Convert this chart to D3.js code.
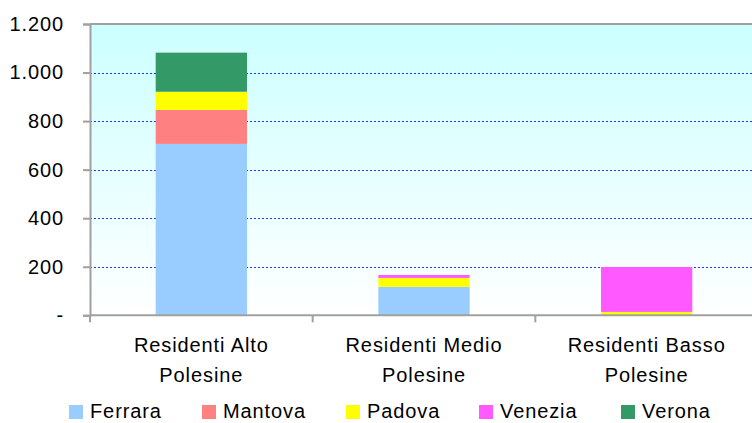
<!DOCTYPE html>
<html>
<head>
  <meta charset="utf-8" />
  <title>Residenti Polesine</title>
  <style type="text/css">
    body { margin: 0; background: #fff; }
    svg { display: block; font-family: 'Liberation Sans', Arial, sans-serif; }
    svg text { letter-spacing: 0.9px; }
  </style>
</head>
<body>
  <div id="chart"></div>
  <script src="https://d3js.org/d3.v7.min.js"></script>
  <script>
  // data
  var categories = ['Residenti Alto|Polesine', 'Residenti Medio|Polesine', 'Residenti Basso|Polesine'];
  var seriesNames = ['Ferrara', 'Mantova', 'Padova', 'Venezia', 'Verona'];
  var ferrara = [706, 117, 0];
  var mantova = [140, 0, 0];
  var padova = [75, 37, 14];
  var venezia = [0, 12, 185];
  var verona = [161, 0, 0];
  var yTicks = [0, 200, 400, 600, 800, 1000, 1200];
  var colors = ['#99CCFF', '#FF8080', '#FFFF00', '#FF59FF', '#339966'];

  var width = 752, height = 423;
  var margin = {top: 24, left: 90, bottom: 108};
  var plotRight = 758;
  var plotBottom = height - margin.bottom + 0.3;

  var svg = d3.select('#chart').append('svg')
    .attr('width', width).attr('height', height);

  var rows = categories.map(function (c, i) {
    return {cat: c, Ferrara: ferrara[i], Mantova: mantova[i], Padova: padova[i], Venezia: venezia[i], Verona: verona[i]};
  });
  var stacked = d3.stack().keys(seriesNames)(rows);

  var x = d3.scaleBand().domain(categories).range([margin.left, plotRight])
    .paddingInner(0.59).paddingOuter(0.295);
  var y = d3.scaleLinear().domain([0, 1200]).range([plotBottom, margin.top]);
  var color = d3.scaleOrdinal().domain(seriesNames).range(colors);

  // background gradient
  var grad = svg.append('defs').append('linearGradient')
    .attr('id', 'bg').attr('x1', 0).attr('y1', 0).attr('x2', 0).attr('y2', 1);
  grad.append('stop').attr('offset', '0%').attr('stop-color', '#CCFFFF');
  grad.append('stop').attr('offset', '100%').attr('stop-color', '#FFFFFF');

  svg.append('rect')
    .attr('x', margin.left).attr('y', margin.top)
    .attr('width', plotRight - margin.left).attr('height', plotBottom - margin.top)
    .attr('fill', 'url(#bg)');

  // dotted gridlines
  svg.append('g').selectAll('line')
    .data(yTicks.filter(function (t) { return t > 0 && t < 1200; }))
    .enter().append('line')
    .attr('x1', margin.left).attr('x2', plotRight)
    .attr('y1', function (d) { return Math.round(y(d)) + 0.5; })
    .attr('y2', function (d) { return Math.round(y(d)) + 0.5; })
    .attr('stroke', '#2233FF').attr('stroke-width', 1.2)
    .attr('stroke-dasharray', '2,2');

  // bars
  svg.append('g').selectAll('g')
    .data(stacked).enter().append('g')
    .attr('fill', function (d) { return color(d.key); })
    .selectAll('rect')
    .data(function (d) { return d; })
    .enter().append('rect')
    .attr('x', function (d) { return x(d.data.cat); })
    .attr('width', x.bandwidth())
    .attr('y', function (d) { return y(d[1]); })
    .attr('height', function (d) { return y(d[0]) - y(d[1]); });

  // frame lines
  var axisColor = '#A0A0A0';
  svg.append('line').attr('x1', margin.left).attr('x2', plotRight)
    .attr('y1', margin.top).attr('y2', margin.top)
    .attr('stroke', axisColor).attr('stroke-width', 2);

  // y axis
  var it = d3.formatLocale({decimal: ',', thousands: '.', grouping: [3], currency: ['', '']});
  var fmt = it.format(',d');
  var yAxis = svg.append('g')
    .attr('transform', 'translate(' + margin.left + ',0)')
    .call(d3.axisLeft(y).tickValues(yTicks).tickSize(7).tickPadding(19)
      .tickFormat(function (d) { return d === 0 ? '-' : fmt(d); }));
  yAxis.select('.domain').attr('stroke', axisColor).attr('stroke-width', 2);
  yAxis.selectAll('.tick line').attr('stroke', axisColor).attr('stroke-width', 2);
  yAxis.selectAll('text').attr('font-size', 20).attr('fill', '#000')
    .attr('font-family', "'Liberation Sans', Arial, sans-serif");

  // x axis line and boundary ticks
  svg.append('line').attr('x1', margin.left).attr('x2', plotRight)
    .attr('y1', plotBottom).attr('y2', plotBottom)
    .attr('stroke', axisColor).attr('stroke-width', 2);
  var step = x.step();
  var bounds = categories.map(function (c) { return x(c) + x.bandwidth() / 2 - step / 2; });
  bounds.push(plotRight);
  svg.append('g').selectAll('line').data(bounds).enter().append('line')
    .attr('x1', function (d) { return d; }).attr('x2', function (d) { return d; })
    .attr('y1', plotBottom).attr('y2', plotBottom + 7)
    .attr('stroke', axisColor).attr('stroke-width', 2);

  // category labels (two lines)
  var catLabels = svg.append('g').selectAll('text').data(categories).enter().append('text')
    .attr('x', function (d) { return x(d) + x.bandwidth() / 2; })
    .attr('y', 352)
    .attr('text-anchor', 'middle').attr('font-size', 20).attr('fill', '#000');
  catLabels.selectAll('tspan')
    .data(function (d) { return d.split('|'); })
    .enter().append('tspan')
    .attr('x', function () { var p = d3.select(this.parentNode).datum(); return x(p) + x.bandwidth() / 2; })
    .attr('dy', function (d, i) { return i === 0 ? 0 : 30; })
    .text(function (d) { return d; });

  // legend
  var legendX = [69, 202, 346, 479, 621];
  var legend = svg.append('g').selectAll('g').data(seriesNames).enter().append('g')
    .attr('transform', function (d, i) { return 'translate(' + legendX[i] + ',0)'; });
  legend.append('rect').attr('x', 0).attr('y', 405).attr('width', 14).attr('height', 14)
    .attr('fill', function (d) { return color(d); });
  legend.append('text').attr('x', 21).attr('y', 418)
    .attr('font-size', 20).attr('fill', '#000')
    .text(function (d) { return d; });
  </script>
</body>
</html>
